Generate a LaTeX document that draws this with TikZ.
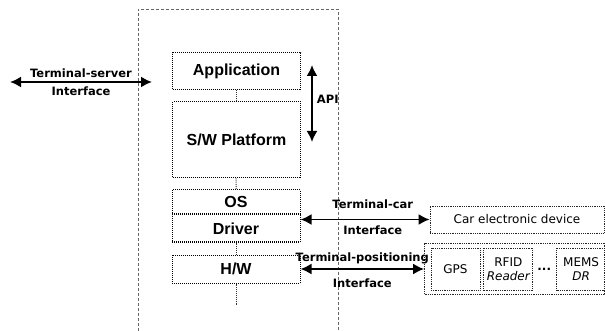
\documentclass[tikz,border=0pt]{standalone}
\usepackage{fontspec}
\setmainfont{Liberation Sans}
\newfontfamily\vfont{DejaVu Sans}
\usetikzlibrary{arrows.meta,positioning}

\begin{document}
\begin{tikzpicture}[x=1pt,y=-1pt,
    layer/.style ={rectangle, draw=black, densely dotted, line width=1pt,
      inner sep=0pt, minimum width=128pt,
      font=\fontsize{16}{18}\selectfont\bfseries},
    device/.style ={rectangle, draw=black!85, densely dotted, line width=0.8pt,
      inner sep=0pt, align=center,
      font=\vfont\fontsize{12}{14}\selectfont},
    iface/.style ={inner sep=0pt, font=\vfont\bfseries\fontsize{11.5}{13}\selectfont},
    link/.style ={draw, line width=1.9pt,
      {Latex[length=11pt,width=11pt]}-{Latex[length=11pt,width=11pt]}},
    stack/.style ={draw=black!80, densely dotted, line width=0.9pt}]
    \useasboundingbox (0,0) rectangle (605,331);
    % terminal frame, open at the bottom
    \draw[black!60, densely dashed, line width=0.7pt] (138,331) -- (138,9) -- (338,9) -- (338,331);

    % software / hardware layers of the terminal
    \node[layer, minimum height=37pt] (app) at (236.5,71.5) {Application};
    \node[layer, minimum height=76pt] (swp) at (236.5,140) {S/W Platform};
    \node[layer, minimum height=24pt] (os) at (236,202) {OS};
    \node[layer, minimum height=27pt, below=0pt of os] (drv) {Driver};
    \node[layer, minimum height=28pt] (hw) at (236,269) {H/W};
    \coordinate (stackend) at (236,305);
    \draw[stack] (app) -- (swp);
    \draw[stack] (swp) -- (os);
    \draw[stack] (drv) -- (hw);
    \draw[stack] (hw) -- (stackend);

    % external devices
    \node[device, minimum width=174pt, minimum height=27pt] (car) at (517,219.5) {Car electronic device};
    \node[device, minimum width=180pt, minimum height=51pt] (pos) at (514.5,268.5) {};
    \node[device, minimum width=49pt, minimum height=42pt] (gps) at (455.5,269) {GPS};
    \node[device, minimum width=49pt, minimum height=42pt, right=3pt of gps] (rfid) {RFID\\\itshape Reader};
    \node[device, minimum width=49pt, minimum height=42pt, right=23pt of rfid] (mems) {MEMS\\\itshape DR};
    \node[iface, font=\vfont\bfseries\fontsize{12}{14}\selectfont, right=4pt of rfid] (dots) {...};

    % interfaces
    \coordinate (srvL) at (10,82);
    \coordinate (srvR) at (152,82);
    \draw[link] (srvL) -- node[iface, above=3pt] (tsrv) {Terminal-server}
                          node[iface, below=4pt] (isrv) {Interface} (srvR);
    \coordinate (apitop) at (312,65);
    \coordinate (apibot) at (312,142);
    \draw[link] (apitop) -- node[iface, right=4pt, pos=0.45] (api) {API} (apibot);
    \draw[link] (drv.east |- car.west) -- node[iface, above=10pt, pos=0.56] (tcar) {Terminal-car}
                                            node[iface, below=5pt, pos=0.56] (icar) {Interface} (car.west);
    \draw[link] (hw.east) -- node[iface, above=4pt] (tpos) {Terminal-positioning}
                             node[iface, below=9pt] (ipos) {Interface} (hw.east -| pos.west);
\end{tikzpicture}
\end{document}
